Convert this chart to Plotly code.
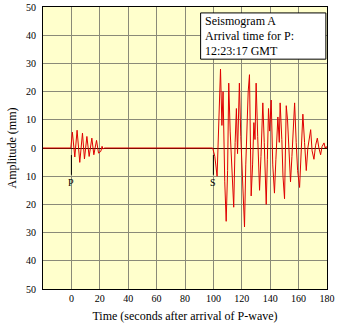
import plotly.graph_objects as go

# Seismogram trace: time (s after P arrival) and amplitude (mm)
time_s = [-20, -0.4, 0.7, 2.4, 4.0, 5.9, 7.8, 9.2, 10.9, 12.5, 14.4, 15.8, 17.7, 19.1,
          20.7, 21.6, 22.3, 23.1,
          99.5, 101.0, 102.6, 103.6, 105.0, 106.0, 106.8, 108.0, 109.0, 110.0, 110.8,
          111.8, 112.6, 113.5, 114.3, 115.3, 116.2, 117.0, 118.3, 119.3, 120.3, 121.2,
          121.9, 122.8, 123.8, 124.5, 125.4, 126.0, 126.6, 127.6, 128.5, 129.3, 130.1,
          131.2, 132.5, 133.5, 134.8, 135.8, 137.2, 138.0, 138.8, 139.6, 140.7, 141.8,
          143.0, 144.0, 145.4, 146.4, 147.0, 148.2, 149.0, 150.1, 151.3, 152.2, 153.3,
          154.3, 155.3, 156.2, 157.2, 158.3, 159.3, 160.7, 161.8, 163.0, 164.2, 165.4,
          166.5, 167.5, 168.5, 169.5, 170.8, 172.0, 173.2, 174.3, 175.5, 176.5, 177.9,
          178.7, 179.5, 180]
amplitude_mm = [0, 0, 5.6, -3.2, 6.3, -5.1, 5.3, -3.9, 4.1, -3.0, 3.5, -2.4, 2.7, -1.8,
                -1.2, 0.6, -0.4, 0,
                0, -3, -10, 4, 28, 8, 20, -12, -26, -8, 23,
                6, -4, -14, -21, 2, 14, -2, 23, 4, -9, -16,
                -28, -6, 10, 20, 26, 4, -17, -6, 9, 3, 23,
                4, -15, -3, 16, 2, -20, -4, 14, 6, 17, -6,
                -16, -4, 11, 2, 16, 3, -10, -18, 15, 10, -4,
                -12, -3, 8, 16, 2, -8, -14, 0, 12, 2, -8,
                0, 4, 6.5, -1, -4, 1, 3.5, 0, -2.4, 0.5, 1.8,
                0, 0.5, 0]

# Wave arrival markers
arrival_labels = ["P", "S"]
arrival_times = [0, 100]

x_ticks = [0, 20, 40, 60, 80, 100, 120, 140, 160, 180]
y_ticks = [-50, -40, -30, -20, -10, 0, 10, 20, 30, 40, 50]
y_tick_text = [str(abs(v)) for v in y_ticks]

info_lines = ["Seismogram A", "Arrival time for P:", "12:23:17 GMT"]

SERIF = "Liberation Serif"

fig = go.Figure()
fig.add_trace(go.Scatter(x=time_s, y=amplitude_mm, mode="lines",
                         line=dict(color="#e00000", width=1), showlegend=False,
                         hoverinfo="skip"))

for lab, t in zip(arrival_labels, arrival_times):
    fig.add_shape(type="line", xref="x", yref="y", x0=t, x1=t, y0=-2.5, y1=-9.5,
                  line=dict(color="black", width=1))
    fig.add_annotation(x=t, y=-12.2, xref="x", yref="y", text=lab, showarrow=False,
                       font=dict(family=SERIF, size=10, color="black"))

# info box
fig.add_shape(type="rect", xref="paper", yref="paper", x0=0.555, x1=0.996,
              y0=0.815, y1=0.979, line=dict(color="black", width=1),
              fillcolor="white", layer="above")
for i, line in enumerate(info_lines):
    fig.add_annotation(xref="paper", yref="paper", x=0.563, y=0.9504 - i * 0.0525,
                       xanchor="left", yanchor="middle", align="left", showarrow=False,
                       text=line, font=dict(family=SERIF, size=12, color="black"))

fig.update_layout(
    width=337, height=329,
    margin=dict(l=43, r=10, t=7, b=40, autoexpand=False),
    paper_bgcolor="white", plot_bgcolor="#ffffcc",
    font=dict(family=SERIF, size=10, color="black"),
    showlegend=False,
    xaxis=dict(range=[-20, 180], tickvals=x_ticks, showgrid=True, gridcolor="#8a8a78",
               gridwidth=1, zeroline=False, showline=True, linecolor="black",
               linewidth=1, mirror=True, ticks="", tickfont=dict(size=10),
               automargin=False,
               title=dict(text="Time (seconds after arrival of P-wave)",
                          font=dict(family=SERIF, size=12), standoff=8)),
    yaxis=dict(range=[-50, 50], tickvals=y_ticks, ticktext=y_tick_text, showgrid=True,
               gridcolor="#8a8a78", gridwidth=1, zeroline=True, zerolinecolor="#301000",
               zerolinewidth=1, showline=True, linecolor="black", linewidth=1,
               mirror=True, ticks="", tickfont=dict(size=10), ticklabelstandoff=4,
               automargin=False,
               title=dict(text="Amplitude (mm)", font=dict(family=SERIF, size=12),
                          standoff=6)),
)

fig.write_html("out.html")
